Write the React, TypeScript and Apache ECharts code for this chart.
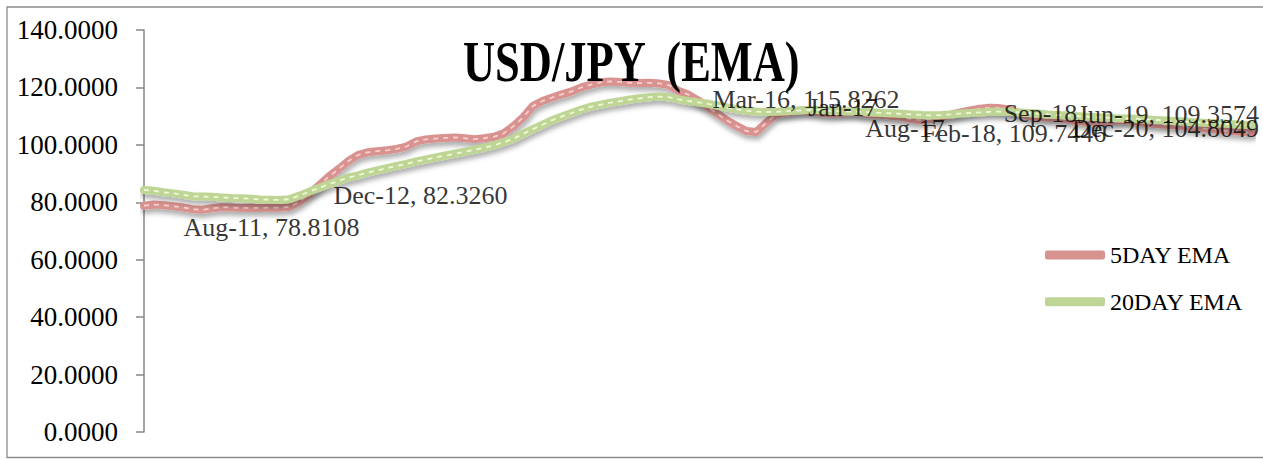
import React, { useEffect, useRef } from "react";
import * as echarts from "echarts";

const categories = [
  "Aug-11", "Sep-11", "Oct-11", "Nov-11", "Dec-11",
  "Jan-12", "Feb-12", "Mar-12", "Apr-12", "May-12", "Jun-12", "Jul-12", "Aug-12", "Sep-12", "Oct-12", "Nov-12", "Dec-12",
  "Jan-13", "Feb-13", "Mar-13", "Apr-13", "May-13", "Jun-13", "Jul-13", "Aug-13", "Sep-13", "Oct-13", "Nov-13", "Dec-13",
  "Jan-14", "Feb-14", "Mar-14", "Apr-14", "May-14", "Jun-14", "Jul-14", "Aug-14", "Sep-14", "Oct-14", "Nov-14", "Dec-14",
  "Jan-15", "Feb-15", "Mar-15", "Apr-15", "May-15", "Jun-15", "Jul-15", "Aug-15", "Sep-15", "Oct-15", "Nov-15", "Dec-15",
  "Jan-16", "Feb-16", "Mar-16", "Apr-16", "May-16", "Jun-16", "Jul-16", "Aug-16", "Sep-16", "Oct-16", "Nov-16", "Dec-16",
  "Jan-17", "Feb-17", "Mar-17", "Apr-17", "May-17", "Jun-17", "Jul-17", "Aug-17", "Sep-17", "Oct-17", "Nov-17", "Dec-17",
  "Jan-18", "Feb-18", "Mar-18", "Apr-18", "May-18", "Jun-18", "Jul-18", "Aug-18", "Sep-18", "Oct-18", "Nov-18", "Dec-18",
  "Jan-19", "Feb-19", "Mar-19", "Apr-19", "May-19", "Jun-19", "Jul-19", "Aug-19", "Sep-19", "Oct-19", "Nov-19", "Dec-19",
  "Jan-20", "Feb-20", "Mar-20", "Apr-20", "May-20", "Jun-20", "Jul-20", "Aug-20", "Sep-20", "Oct-20", "Nov-20", "Dec-20",
  "Jan-21", "Feb-21",
];

const ema5 = [
  78.8108, 79.2, 79.0, 78.6, 78.2, 77.6, 77.4, 77.9, 78.3, 78.2,
  78.0, 78.1, 78.0, 78.2, 78.1, 78.4, 80.2, 82.8, 85.9, 88.9,
  91.5, 94.3, 96.4, 97.4, 97.8, 98.1, 98.6, 99.4, 101.2, 101.9,
  102.2, 102.4, 102.6, 102.3, 102.0, 102.3, 102.8, 104.0, 106.5, 109.5,
  113.5, 115.3, 116.5, 117.6, 118.6, 120.0, 121.0, 121.8, 122.1, 121.9,
  121.6, 121.5, 121.6, 121.4, 120.8, 118.8, 117.5, 115.5, 113.2, 110.8,
  108.5, 106.5, 104.8, 104.5, 107.6, 110.5, 111.2, 111.8, 112.0, 111.6,
  111.0, 110.9, 111.3, 111.5, 111.0, 110.6, 110.5, 110.0, 109.7446, 108.9,
  108.6, 109.0, 109.6, 110.5, 111.3, 112.0, 112.6, 112.9, 112.8, 112.3,
  111.2, 110.0, 109.6, 109.4, 109.3574, 108.8, 108.3, 108.0, 107.8, 107.9,
  108.4, 108.7, 108.1, 107.6, 107.3, 107.0, 106.8, 106.4, 106.0, 105.7,
  105.5, 105.0, 104.8049, 104.5, 104.3,
];

const ema20 = [
  84.3, 84.0, 83.5, 83.1, 82.6, 82.1, 82.0, 81.9, 81.7, 81.5,
  81.4, 81.2, 81.0, 80.9, 80.8, 81.1, 82.326, 83.7, 85.0, 86.3,
  87.4, 88.6, 89.4, 90.3, 91.1, 91.9, 92.7, 93.4, 94.2, 94.9,
  95.6, 96.3, 96.9, 97.6, 98.3, 99.0, 99.8, 100.9, 102.1, 103.8,
  105.5, 107.0, 108.6, 109.9, 111.1, 112.3, 113.3, 114.0, 114.7, 115.2,
  115.8, 116.2, 116.6, 116.8, 116.6, 115.8262, 115.3, 114.8, 114.3, 113.7,
  113.0, 112.4, 111.9, 111.6, 111.4, 111.5, 111.7, 111.9, 112.1, 112.2,
  112.0, 111.8, 111.7, 111.6, 111.4, 111.3, 111.1, 111.0, 110.8, 110.6,
  110.4, 110.3, 110.4, 110.6, 110.9, 111.1, 111.3, 111.5, 111.6, 111.5,
  111.3, 111.1, 110.9, 110.6, 110.4, 110.2, 110.0, 109.8, 109.6, 109.5,
  109.3, 109.2, 109.1, 108.9, 108.7, 108.5, 108.3, 108.1, 107.9, 107.7,
  107.6, 107.4, 107.2, 107.0, 106.8,
];

const seriesNames = ["5DAY EMA", "20DAY EMA"];
const titleText = "USD/JPY  (EMA)";
const yMin = 0;
const yMax = 140;
const yStep = 20;

// which points carry a data label (series index, category, whether value is shown)
const labelledPoints = [
  { series: 0, category: "Aug-11", showValue: true },
  { series: 1, category: "Dec-12", showValue: true },
  { series: 1, category: "Mar-16", showValue: true },
  { series: 1, category: "Jan-17", showValue: false },
  { series: 1, category: "Aug-17", showValue: false },
  { series: 0, category: "Feb-18", showValue: true },
  { series: 1, category: "Sep-18", showValue: false },
  { series: 0, category: "Jun-19", showValue: true },
  { series: 0, category: "Dec-20", showValue: true },
];

// label placement (styling only)
const labelPlacement: Record<string, { position: string; offset: number[] }> = {
  "Aug-11": { position: "right", offset: [34, 22] },
  "Dec-12": { position: "right", offset: [28.5, 0] },
  "Mar-16": { position: "right", offset: [28.4, 0.5] },
  "Jan-17": { position: "right", offset: [27, -4] },
  "Aug-17": { position: "right", offset: [16, 17] },
  "Feb-18": { position: "right", offset: [14.5, 17] },
  "Sep-18": { position: "right", offset: [28, 1] },
  "Jun-19": { position: "left", offset: [207, -3] },
  "Dec-20": { position: "left", offset: [32, -3] },
};

const FONT = "'Liberation Serif', 'Times New Roman', serif";
const lineColors = ["#D8928F", "#BFD595"];
const dashColors = ["#F6CFCD", "#EEF8D6"];

export default function App() {
  const ref = useRef<HTMLDivElement>(null);

  useEffect(() => {
    if (!ref.current) return;
    const chart = echarts.init(ref.current, undefined, { renderer: "svg" });
    const allSeries = [ema5, ema20];

    const labelData = labelledPoints.map((p) => {
      const idx = categories.indexOf(p.category);
      const v = allSeries[p.series][idx];
      const place = labelPlacement[p.category];
      return {
        value: [p.category, v],
        label: {
          show: true,
          position: place.position,
          offset: place.offset,
          formatter: p.showValue ? `${p.category}, ${v.toFixed(4)}` : p.category,
        },
      };
    });

    const mainSeries = seriesNames.map((name, i) => ({
      name,
      type: "line",
      data: allSeries[i],
      symbol: "none",
      z: 2 + i * 2,
      itemStyle: { color: lineColors[i] },
      lineStyle: {
        color: lineColors[i],
        width: 8,
        cap: "round",
        join: "round",
        shadowColor: "rgba(0,0,0,0.32)",
        shadowBlur: 5,
        shadowOffsetX: 1,
        shadowOffsetY: 4,
      },
      emphasis: { disabled: true },
      silent: true,
    }));

    const dashSeries = seriesNames.map((name, i) => ({
      name: name + " dash",
      type: "line",
      data: allSeries[i],
      symbol: "none",
      z: 3 + i * 2,
      lineStyle: { color: dashColors[i], width: 1.8, type: [5, 5] },
      emphasis: { disabled: true },
      silent: true,
    }));

    chart.setOption({
      animation: false,
      backgroundColor: "#ffffff",
      textStyle: { fontFamily: FONT },
      grid: { left: 144, right: 11, top: 30, bottom: 27, containLabel: false },
      legend: {
        data: seriesNames,
        orient: "vertical",
        left: 1040,
        top: 238,
        icon: "roundRect",
        itemWidth: 60,
        itemHeight: 9,
        itemGap: 22.7,
        textStyle: { fontFamily: FONT, fontSize: 24, color: "#000", lineHeight: 24 },
        selectedMode: false,
      },
      xAxis: {
        type: "category",
        data: categories,
        boundaryGap: false,
        axisLine: { show: false },
        axisTick: { show: false },
        axisLabel: { show: false },
        splitLine: { show: false },
      },
      yAxis: {
        type: "value",
        min: yMin,
        max: yMax,
        interval: yStep,
        axisLine: { show: true, lineStyle: { color: "#878787", width: 1.5 } },
        axisTick: { show: true, inside: false, length: 8, lineStyle: { color: "#878787", width: 1.5 } },
        axisLabel: {
          margin: 26,
          fontFamily: FONT,
          fontSize: 27,
          color: "#000",
          formatter: (v: number) => v.toFixed(4),
        },
        splitLine: { show: false },
      },
      series: [
        mainSeries[0],
        dashSeries[0],
        mainSeries[1],
        dashSeries[1],
        {
          name: "labels",
          type: "scatter",
          data: labelData,
          symbolSize: 1,
          itemStyle: { color: "rgba(0,0,0,0)" },
          z: 10,
          silent: true,
          label: { fontFamily: FONT, fontSize: 26, color: "#000" },
        },
      ],
      graphic: [
        {
          type: "rect",
          shape: { x: 7, y: 7, width: 1270, height: 450.5 },
          style: { fill: "none", stroke: "#8c8c8c", lineWidth: 1.3 },
          silent: true,
          z: 0,
        },
        {
          type: "text",
          x: 463,
          y: 61,
          scaleX: 0.78,
          style: {
            text: titleText,
            fontFamily: FONT,
            fontWeight: "bold",
            fontSize: 57,
            fill: "#000",
            align: "left",
            verticalAlign: "middle",
          },
          z: 20,
        },
      ],
    });

    return () => chart.dispose();
  }, []);

  return (
    <div
      ref={ref}
      style={{ position: "fixed", left: 0, top: 0, width: 1263, height: 459, background: "#fff" }}
    />
  );
}
